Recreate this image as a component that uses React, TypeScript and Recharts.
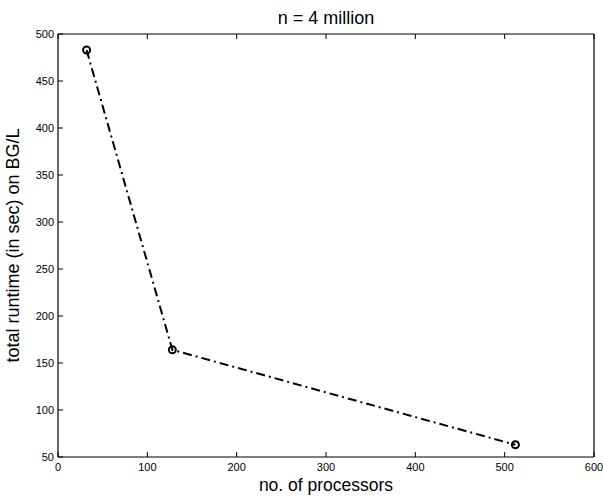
import React from "react"
import { LineChart, Line, XAxis, YAxis, Label } from "recharts"

const processors = [32, 128, 512]
const runtimes = [483, 164, 63]
const xTicks = [0, 100, 200, 300, 400, 500, 600]
const yTicks = [50, 100, 150, 200, 250, 300, 350, 400, 450, 500]

const data = processors.map((p, i) => ({ procs: p, runtime: runtimes[i] }))

const FONT = "'Liberation Sans', Arial, Helvetica, sans-serif"
const TICK_LEN = 5

// MATLAB-style axes: tick marks point into the plot box
function BottomTick(props: any) {
  const { x, y, payload } = props
  return (
    <g>
      <line x1={x} x2={x} y1={y} y2={y - TICK_LEN} stroke="#000" strokeWidth={1} />
      <text x={x} y={y + 14} textAnchor="middle" fontSize={11} fontFamily={FONT} fill="#000">
        {payload.value}
      </text>
    </g>
  )
}

function TopTick(props: any) {
  const { x, y } = props
  return <line x1={x} x2={x} y1={y} y2={y + TICK_LEN} stroke="#000" strokeWidth={1} />
}

function LeftTick(props: any) {
  const { x, y, payload } = props
  return (
    <g>
      <line x1={x} x2={x + TICK_LEN} y1={y} y2={y} stroke="#000" strokeWidth={1} />
      <text x={x - 4} y={y + 4} textAnchor="end" fontSize={11} fontFamily={FONT} fill="#000">
        {payload.value}
      </text>
    </g>
  )
}

function RightTick(props: any) {
  const { x, y } = props
  return <line x1={x} x2={x - TICK_LEN} y1={y} y2={y} stroke="#000" strokeWidth={1} />
}

const axisLine = { stroke: "#000", strokeWidth: 1.2 }

export default function App() {
  return (
    <div style={{ position: "absolute", left: 0, top: 0, background: "#fff", fontFamily: FONT }}>
      <LineChart width={603} height={497} data={data} margin={{ top: 33, right: 8, bottom: 0, left: 0 }}>
        <XAxis
          xAxisId="b"
          dataKey="procs"
          type="number"
          domain={[0, 600]}
          ticks={xTicks}
          interval={0}
          height={40}
          stroke="#000"
          tickSize={0}
          tickMargin={0}
          tickLine={false}
          axisLine={axisLine}
          tick={<BottomTick />}
        >
          <Label
            value="no. of processors"
            position="insideBottom"
            offset={6}
            style={{ fontSize: 17.5, fontFamily: FONT, fill: "#000" }}
          />
        </XAxis>
        <XAxis
          xAxisId="t"
          orientation="top"
          dataKey="procs"
          type="number"
          domain={[0, 600]}
          ticks={xTicks}
          interval={0}
          height={1}
          stroke="#000"
          tickSize={0}
          tickMargin={0}
          tickLine={false}
          axisLine={axisLine}
          tick={<TopTick />}
        >
          <Label
            value="n = 4 million"
            position="top"
            offset={9}
            style={{ fontSize: 18, fontFamily: FONT, fill: "#000" }}
          />
        </XAxis>
        <YAxis
          yAxisId="l"
          type="number"
          domain={[50, 500]}
          ticks={yTicks}
          interval={0}
          width={58}
          stroke="#000"
          tickSize={0}
          tickMargin={0}
          tickLine={false}
          axisLine={axisLine}
          tick={<LeftTick />}
        >
          <Label
            value="total runtime (in sec) on BG/L"
            angle={-90}
            position="insideLeft"
            offset={13}
            style={{ fontSize: 18, fontFamily: FONT, fill: "#000", textAnchor: "middle" }}
          />
        </YAxis>
        <YAxis
          yAxisId="r"
          orientation="right"
          type="number"
          domain={[50, 500]}
          ticks={yTicks}
          interval={0}
          width={1}
          stroke="#000"
          tickSize={0}
          tickMargin={0}
          tickLine={false}
          axisLine={axisLine}
          tick={<RightTick />}
        />
        <Line
          xAxisId="b"
          yAxisId="l"
          dataKey="runtime"
          type="linear"
          stroke="#000"
          strokeWidth={2}
          strokeDasharray="9 4 2 4"
          dot={{ r: 3.5, stroke: "#000", strokeWidth: 2, fill: "none", strokeDasharray: "0" }}
          isAnimationActive={false}
        />
      </LineChart>
    </div>
  )
}
